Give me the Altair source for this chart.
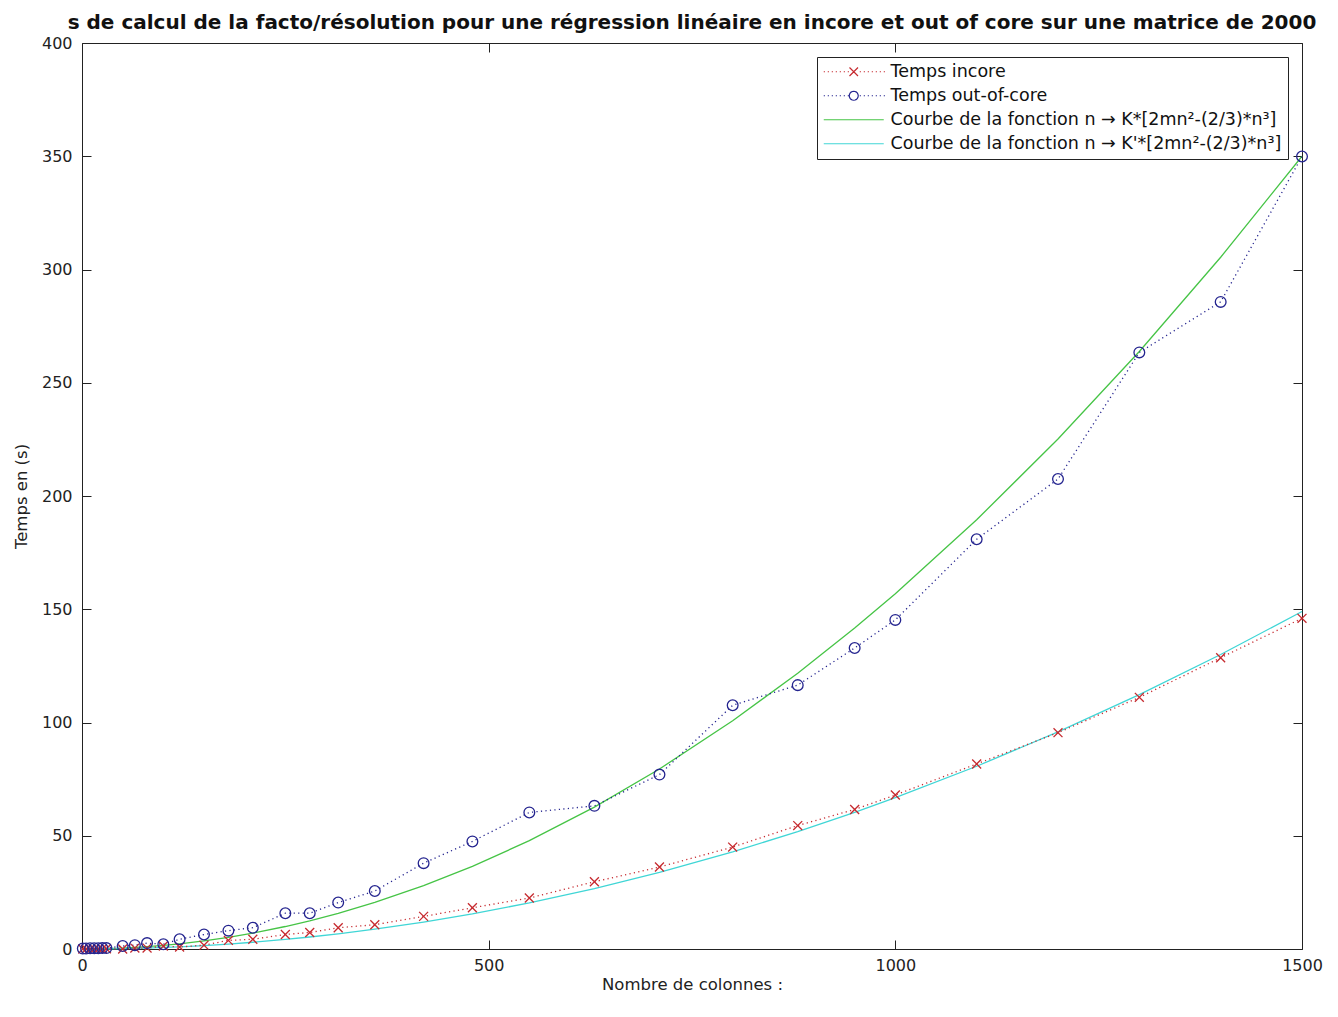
import math
import altair as alt
import pandas as pd

# ---------------- data ----------------
n_values = [1, 5, 10, 15, 20, 25, 30, 50, 65, 80, 100, 120, 150, 180, 210, 250, 280,
            315, 360, 420, 480, 550, 630, 710, 800, 880, 950, 1000, 1100, 1200, 1300, 1400, 1500]

temps_incore = [0.0, 0.0, 0.05, 0.05, 0.1, 0.1, 0.1, 0.0, 0.4, 0.4, 1.3, 0.9, 1.7, 3.8, 4.3,
                6.4, 7.3, 9.4, 10.7, 14.4, 18.2, 22.5, 29.7, 36.2, 45.0, 54.5, 61.6, 68.0,
                81.7, 95.5, 111.1, 128.6, 146.0]

temps_ooc = [0.2, 0.2, 0.3, 0.3, 0.3, 0.4, 0.4, 1.3, 1.7, 2.6, 2.1, 4.3, 6.4, 8.1, 9.4,
             15.8, 15.8, 20.5, 25.6, 37.9, 47.5, 60.3, 63.2, 77.0, 107.6, 116.5, 132.9, 145.3,
             180.9, 207.5, 263.4, 285.7, 349.9]

courbe_k = [0.0, 0.0, 0.02, 0.03, 0.06, 0.09, 0.13, 0.40, 0.67, 1.02, 1.59, 2.29, 3.58, 5.15,
            7.01, 9.93, 12.45, 15.75, 20.55, 27.95, 36.46, 47.82, 62.66, 79.47, 100.75,
            121.74, 141.71, 156.89, 189.51, 225.15, 263.79, 305.41, 350.0]

courbe_kp = [0.0, 0.0, 0.01, 0.01, 0.03, 0.04, 0.05, 0.17, 0.29, 0.43, 0.68, 0.98, 1.52, 2.19,
             2.98, 4.23, 5.30, 6.70, 8.75, 11.90, 15.52, 20.36, 26.67, 33.83, 42.89, 51.83,
             60.33, 66.79, 80.68, 95.85, 112.30, 130.02, 149.0]

series_names = [
    "Temps incore",
    "Temps out-of-core",
    "Courbe de la fonction n \u2192 K*[2mn\u00b2-(2/3)*n\u00b3]",
    "Courbe de la fonction n \u2192 K'*[2mn\u00b2-(2/3)*n\u00b3]",
]
series_colors = ["#c62a2f", "#24248f", "#46c446", "#40d6d6"]

x_ticks = [0, 500, 1000, 1500]
y_ticks = [0, 50, 100, 150, 200, 250, 300, 350, 400]

title_text = ("s de calcul de la facto/r\u00e9solution pour une r\u00e9gression lin\u00e9aire "
              "en incore et out of core sur une matrice de 2000")
x_title = "Nombre de colonnes :"
y_title = "Temps en (s)"

rows = []
for name, vals in zip(series_names, [temps_incore, temps_ooc, courbe_k, courbe_kp]):
    for n, t in zip(n_values, vals):
        rows.append({"n": n, "t": t, "serie": name})
df = pd.DataFrame(rows)

# ---------------- styling ----------------
FONT = "DejaVu Sans"
INK = "#222222"
TICK = alt.ExprRef(expr="-9")

# legend symbol paths (unit = 5 px with symbolSize 100)
def dotted(lo, hi, step, gap):
    segs = []
    x = lo
    while x <= hi + 1e-9:
        if abs(x) > gap:
            segs.append(f"M{x:.2f},0L{x + 0.24:.2f},0")
        x += step
    return "".join(segs)

cross_path = "M-0.85,-0.85L0.85,0.85M-0.85,0.85L0.85,-0.85"
circ = []
for k in range(21):
    a = 2 * math.pi * k / 20
    circ.append(f"{'M' if k == 0 else 'L'}{0.9 * math.cos(a):.3f},{0.9 * math.sin(a):.3f}")
circle_path = "".join(circ)
leg_incore = dotted(-6, 6, 0.8, 1.1) + cross_path
leg_ooc = dotted(-6, 6, 0.8, 1.1) + circle_path
leg_line = "M-6,0L6,0"

symbol_expr = (f"datum.value === 'Temps incore' ? '{leg_incore}' : "
               f"(datum.value === 'Temps out-of-core' ? '{leg_ooc}' : '{leg_line}')")

legend = alt.Legend(
    title=None,
    orient="top-right",
    offset=14,
    padding=6,
    fillColor="white",
    strokeColor=INK,
    labelFont=FONT,
    labelFontSize=17.5,
    labelColor="#111111",
    labelLimit=800,
    symbolSize=100,
    symbolType=alt.ExprRef(expr=symbol_expr),
    symbolFillColor="transparent",
    symbolOffset=22,
    labelOffset=28,
    rowPadding=5,
    symbolStrokeWidth=1.2,
)

color_enc = alt.Color(
    "serie:N",
    scale=alt.Scale(domain=series_names, range=series_colors),
    legend=legend,
)

xscale = alt.Scale(domain=[0, 1500], nice=False, zero=False)
yscale = alt.Scale(domain=[0, 400], nice=False, zero=False)

x_bottom = alt.Axis(orient="bottom", values=x_ticks, title=x_title, grid=False, domain=False,
                    tickSize=TICK, tickColor=INK, labelPadding=17, titlePadding=3,
                    labelFlush=False, format="d")
y_left = alt.Axis(orient="left", values=y_ticks, title=y_title, grid=False, domain=False,
                  tickSize=TICK, tickColor=INK, labelPadding=19, titlePadding=12,
                  labelFlush=False, format="d")
x_top = alt.Axis(orient="top", values=x_ticks, title=None, labels=False, grid=False,
                 domain=False, tickSize=TICK, tickColor=INK, minExtent=0, maxExtent=0)
y_right = alt.Axis(orient="right", values=y_ticks, title=None, labels=False, grid=False,
                   domain=False, tickSize=TICK, tickColor=INK, minExtent=0, maxExtent=0)

base = alt.Chart(df)

fits = base.transform_filter(
    alt.FieldOneOfPredicate(field="serie", oneOf=series_names[2:])
).mark_line(strokeWidth=1.3).encode(
    x=alt.X("n:Q", scale=xscale, axis=x_bottom),
    y=alt.Y("t:Q", scale=yscale, axis=y_left),
    color=color_enc,
)

meas_lines = base.transform_filter(
    alt.FieldOneOfPredicate(field="serie", oneOf=series_names[:2])
).mark_line(strokeWidth=1.3, strokeDash=[1.2, 3.3]).encode(
    x=alt.X("n:Q", scale=xscale, axis=x_top),
    y=alt.Y("t:Q", scale=yscale, axis=y_right),
    color=color_enc,
)

pts_incore = base.transform_filter(
    alt.FieldEqualPredicate(field="serie", equal=series_names[0])
).mark_point(shape="M-1,-1L1,1M-1,1L1,-1", size=80, strokeWidth=1.3, filled=False,
             opacity=1).encode(
    x=alt.X("n:Q", scale=xscale, axis=None),
    y=alt.Y("t:Q", scale=yscale, axis=None),
    color=color_enc,
)

pts_ooc = base.transform_filter(
    alt.FieldEqualPredicate(field="serie", equal=series_names[1])
).mark_point(shape="circle", size=115, strokeWidth=1.3, filled=False, opacity=1).encode(
    x=alt.X("n:Q", scale=xscale, axis=None),
    y=alt.Y("t:Q", scale=yscale, axis=None),
    color=color_enc,
)

chart = alt.layer(fits, meas_lines, pts_incore, pts_ooc).properties(
    width=1220,
    height=906,
    background="white",
    title=alt.TitleParams(text=title_text, font=FONT, fontSize=20, fontWeight="bold",
                          color="#111111", anchor="middle", offset=2),
).configure_view(
    stroke=INK, strokeWidth=1
).configure_axis(
    labelFont=FONT, labelFontSize=16, labelColor=INK,
    titleFont=FONT, titleFontSize=16.5, titleFontWeight="normal", titleColor=INK,
)

chart.save("out.html", embed_options={"renderer": "svg", "actions": False})
